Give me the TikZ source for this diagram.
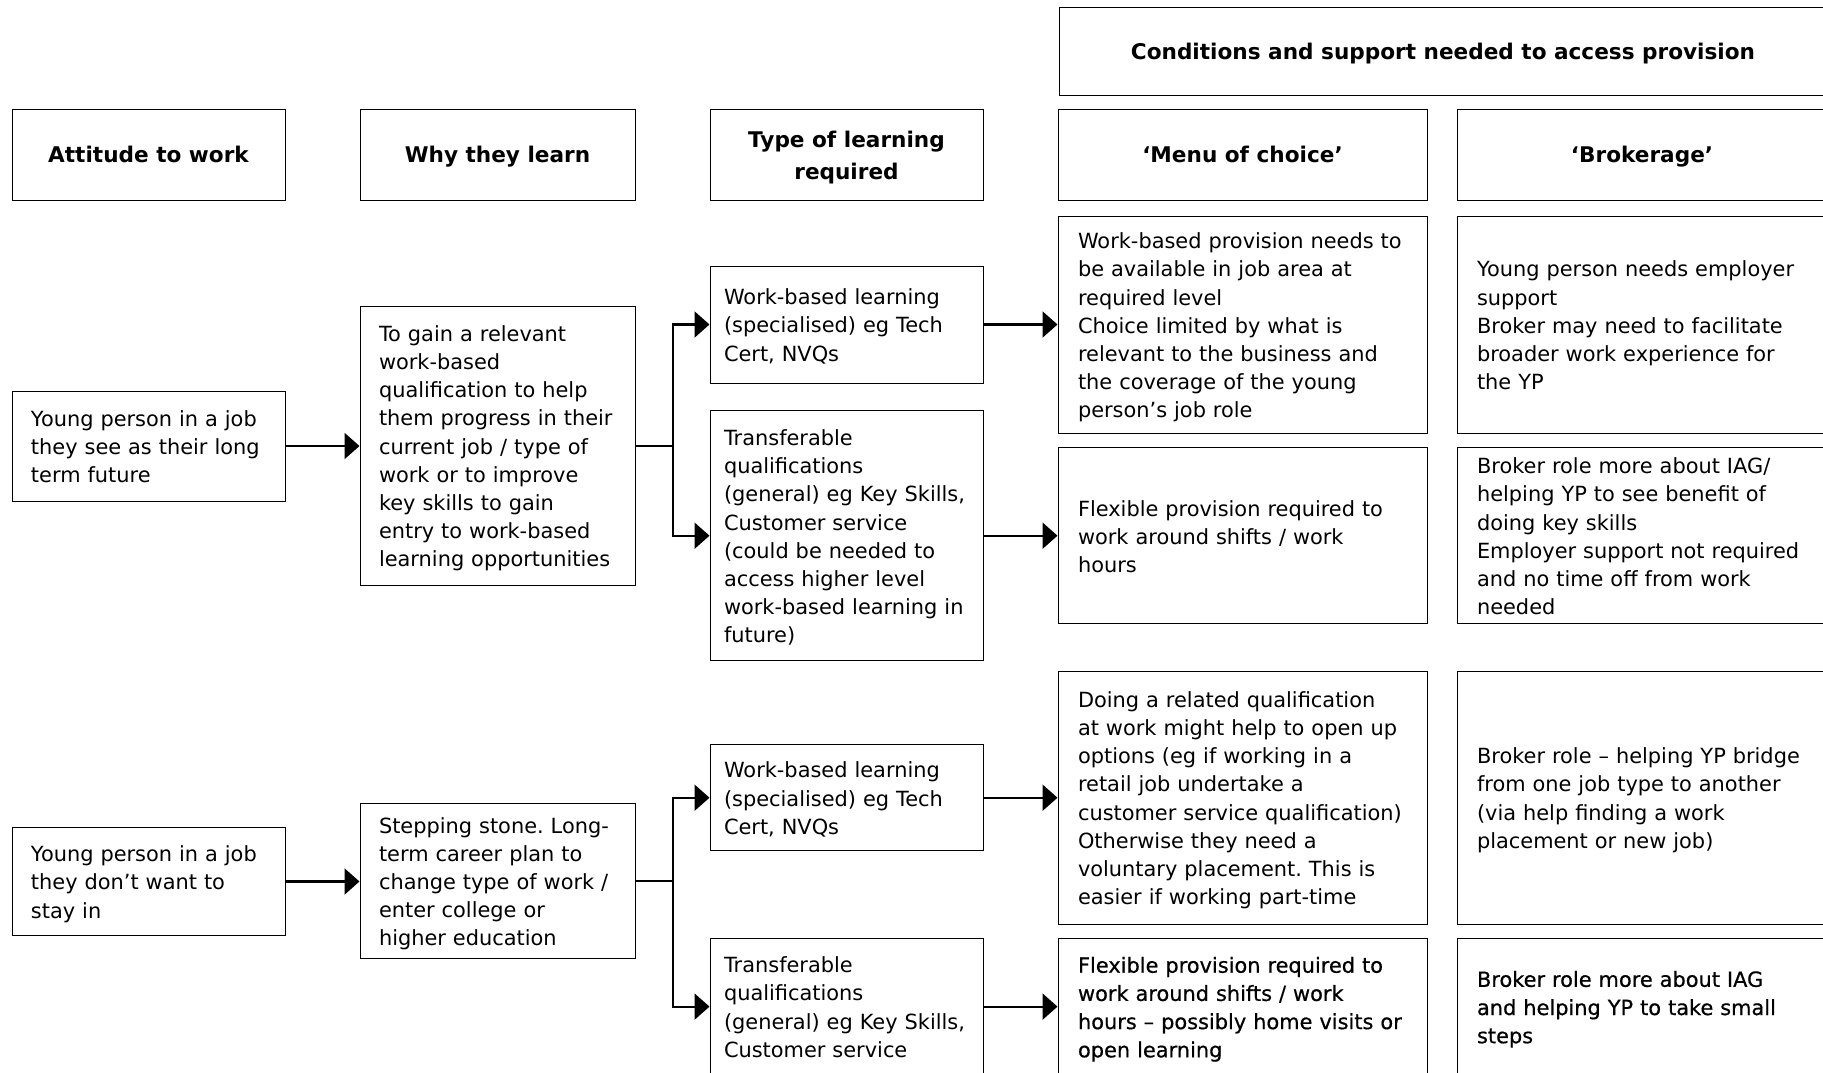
\documentclass[tikz,border=0pt]{standalone}
\usepackage{fontspec}
\setmainfont{DejaVu Sans}
\newfontfamily\heavyfont[FakeBold=0.6]{DejaVu Sans}
\usetikzlibrary{arrows.meta}
\frenchspacing

\newcommand\cellsize{\fontsize{10.45pt}{14.1pt}\selectfont}

\tikzset{
  cell/.style={draw, line width=0.5pt, align=left, inner ysep=0pt, font=\cellsize,
    execute at begin node={\rule{0pt}{10.9pt}},
    execute at end node={\rule[-2.5pt]{0pt}{0pt}}},
  head/.style={draw, line width=0.5pt, align=center, font=\fontsize{10.8pt}{16pt}\selectfont\bfseries},
  headline/.style={head, text depth=0pt},
  colA/.style={cell, inner xsep=9.5pt, text width=117.5pt},
  colB/.style={cell, inner xsep=9.5pt, text width=118.5pt},
  colC/.style={cell, inner xsep=7pt, text width=122.5pt},
  colD/.style={cell, inner xsep=10pt, text width=164.5pt},
  colE/.style={cell, inner xsep=10pt, text width=165pt},
  heavy/.style={font=\heavyfont\cellsize},
  link/.style={line width=1.1pt},
  flow/.style={link, -{Triangle[length=7.5pt, width=13pt]}},
}

\begin{document}
\begin{tikzpicture}[x=0.5pt, y=-0.5pt]
    \clip (0,0) rectangle (1823,1072);

    % headings
    \node[headline, minimum width=384pt, minimum height=44pt] (cond) at (1443,51)
        {Conditions and support needed to access provision};
    \node[headline, minimum width=136.5pt, minimum height=45.25pt] (hatt) at (148.5,154.75) {Attitude to work};
    \node[headline, minimum width=137.5pt, minimum height=45.25pt] (hwhy) at (497.5,154.75) {Why they learn};
    \node[head, minimum width=136.5pt, minimum height=45.25pt] (htype) at (846.5,154.75)
        {\rule{0pt}{11.4pt}Type of learning\\required\rule[-2.6pt]{0pt}{0pt}};
    \node[headline, minimum width=184.5pt, minimum height=45.25pt] (hmenu) at (1242.5,154.75) {‘Menu of choice’};
    \node[headline, minimum width=185pt, minimum height=45.25pt] (hbrok) at (1642,154.75) {‘Brokerage’};

    % first row: job seen as long term future
    \node[colA, minimum height=55pt] (att1) at (148.5,446)
        {Young person in a job\\they see as their long\\term future};
    \node[colB, minimum height=139.5pt] (why1) at (497.5,445.7)
        {To gain a relevant\\work-based\\qualification to help\\them progress in their\\current job / type of\\work or to improve\\key skills to gain\\entry to work-based\\learning opportunities};
    \node[colC, minimum height=58.5pt] (type1a) at (846.5,324.5)
        {Work-based learning\\(specialised) eg Tech\\Cert, NVQs};
    \node[colC, minimum height=125pt] (type1b) at (846.5,535.7)
        {Transferable\\qualifications\\(general) eg Key Skills,\\Customer service\\(could be needed to\\access higher level\\work-based learning in\\future)};
    \node[colD, minimum height=108.4pt] (menu1a) at (1242.5,324.8)
        {Work-based provision needs to\\be available in job area at\\required level\\Choice limited by what is\\relevant to the business and\\the coverage of the young\\person’s job role};
    \node[colE, minimum height=108.4pt] (brok1a) at (1642,324.8)
        {Young person needs employer\\support\\Broker may need to facilitate\\broader work experience for\\the YP};
    \node[colD, minimum height=88pt] (menu1b) at (1242.5,535.85)
        {Flexible provision required to\\work around shifts / work\\hours};
    \node[colE, minimum height=88pt] (brok1b) at (1642,535.85)
        {Broker role more about IAG/\\helping YP to see benefit of\\doing key skills\\Employer support not required\\and no time off from work\\needed};

    % second row: job they want to leave
    \node[colA, minimum height=53.8pt] (att2) at (148.5,881.5)
        {Young person in a job\\they don’t want to\\stay in};
    \node[colB, minimum height=77.85pt] (why2) at (497.5,881)
        {Stepping stone. Long-\\term career plan to\\change type of work /\\enter college or\\higher education};
    \node[colC, minimum height=53pt] (type2a) at (846.5,797.7)
        {Work-based learning\\(specialised) eg Tech\\Cert, NVQs};
    \node[colC, minimum height=68pt] (type2b) at (846.5,1006.6)
        {Transferable\\qualifications\\(general) eg Key Skills,\\Customer service};
    \node[colD, minimum height=126.5pt] (menu2a) at (1242.5,797.5)
        {Doing a related qualification\\at work might help to open up\\options (eg if working in a\\retail job undertake a\\customer service qualification)\\Otherwise they need a\\voluntary placement. This is\\easier if working part-time};
    \node[colE, minimum height=126.5pt] (brok2a) at (1642,797.5)
        {Broker role – helping YP bridge\\from one job type to another\\(via help finding a work\\placement or new job)};
    \node[colD, heavy, minimum height=68pt] (menu2b) at (1242.5,1006.6)
        {Flexible provision required to\\work around shifts / work\\hours – possibly home visits or\\open learning};
    \node[colE, heavy, minimum height=68pt] (brok2b) at (1642,1006.6)
        {Broker role more about IAG\\and helping YP to take small\\steps};

    % arrows
    \draw[flow] (att1.east) -- (att1.east -| why1.west);
    \draw[link] (why1.east) -- ++(37.5,0) coordinate (fork1);
    \draw[flow] (fork1) |- (type1a.west);
    \draw[flow] (fork1) |- (type1b.west);
    \draw[flow] (type1a.east) -- (type1a.east -| menu1a.west);
    \draw[flow] (type1b.east) -- (type1b.east -| menu1b.west);

    \draw[flow] (att2.east) -- (att2.east -| why2.west);
    \draw[link] (why2.east) -- ++(37.5,0) coordinate (fork2);
    \draw[flow] (fork2) |- (type2a.west);
    \draw[flow] (fork2) |- (type2b.west);
    \draw[flow] (type2a.east) -- (type2a.east -| menu2a.west);
    \draw[flow] (type2b.east) -- (type2b.east -| menu2b.west);
\end{tikzpicture}
\end{document}
